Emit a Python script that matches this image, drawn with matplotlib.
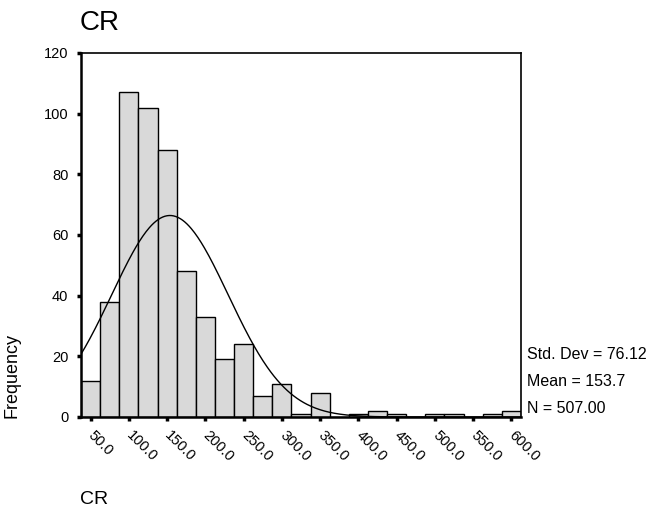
import numpy as np
import matplotlib
matplotlib.use('Agg')
import matplotlib.pyplot as plt

# CR histogram, bin width 25, bins centred on 50, 75, ..., 600
bin_centers = [50, 75, 100, 125, 150, 175, 200, 225, 250, 275, 300, 325,
               350, 375, 400, 425, 450, 475, 500, 525, 550, 575, 600]
counts = [12, 38, 107, 102, 88, 48, 33, 19, 24, 7, 11, 1,
          8, 0, 1, 2, 1, 0, 1, 1, 0, 1, 2]
tick_values = [50, 100, 150, 200, 250, 300, 350, 400, 450, 500, 550, 600]
std_dev = 76.12
mean = 153.7
n = 507.00
bin_width = 25

plt.rcParams['font.family'] = ['Liberation Sans', 'DejaVu Sans']

fig = plt.figure(figsize=(6.51, 5.08), dpi=100)
ax = fig.add_axes([81 / 651, 1 - 417 / 508, 440 / 651, 364 / 508])

ax.bar(bin_centers, counts, width=bin_width, color='#d9d9d9',
       edgecolor='black', linewidth=1.0, zorder=2)

# normal curve scaled to the histogram
xs = np.linspace(37.5, 612.5, 400)
ys = n * bin_width * np.exp(-0.5 * ((xs - mean) / std_dev) ** 2) / (std_dev * np.sqrt(2 * np.pi))
ax.plot(xs, ys, color='black', linewidth=1.0, zorder=3)

ax.set_xlim(37.5, 612.5)
ax.set_ylim(0, 120)
ax.set_yticks([0, 20, 40, 60, 80, 100, 120])
ax.set_xticks(tick_values)
ax.set_xticklabels(['%.1f' % v for v in tick_values], rotation=-45,
                   ha='left', va='center', rotation_mode='anchor', fontsize=10.5)
for lbl in ax.get_yticklabels():
    lbl.set_fontsize(10.5)
ax.tick_params(axis='both', direction='out', length=3, width=2.5)
ax.tick_params(axis='y', pad=6)
ax.tick_params(axis='x', pad=9)

for side in ['top', 'right']:
    ax.spines[side].set_linewidth(1.2)
for side in ['left', 'bottom']:
    ax.spines[side].set_linewidth(1.8)

fig.text(80 / 651, 1 - 30 / 508, 'CR', fontsize=20, ha='left', va='baseline')
fig.text(12 / 651, 1 - 418 / 508, 'Frequency', fontsize=13, rotation=90,
         ha='center', va='bottom')
fig.text(80 / 651, 1 - 504 / 508, 'CR', fontsize=14, ha='left', va='baseline')

stats = ['Std. Dev = %.2f' % std_dev, 'Mean = %.1f' % mean, 'N = %.2f' % n]
for i, s in enumerate(stats):
    fig.text(527 / 651, 1 - (359 + 27 * i) / 508, s, fontsize=11.5, ha='left', va='baseline')

fig.savefig('out.png', dpi=100)
